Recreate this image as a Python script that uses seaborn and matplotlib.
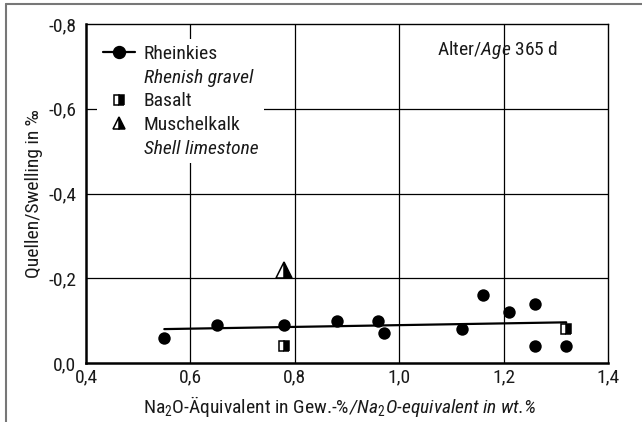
import matplotlib
matplotlib.use("Agg")
import matplotlib.pyplot as plt
from matplotlib import font_manager
from matplotlib.lines import Line2D
from matplotlib.ticker import FuncFormatter, FixedLocator
import seaborn as sns

# ---------------- data ----------------
rhein_x = [0.55, 0.65, 0.78, 0.88, 0.96, 0.97, 1.12, 1.16, 1.21, 1.26, 1.26, 1.32]
rhein_y = [-0.06, -0.09, -0.09, -0.10, -0.10, -0.07, -0.08, -0.16, -0.12, -0.14, -0.04, -0.04]
basalt_x = [0.78, 1.32]
basalt_y = [-0.04, -0.08]
muschel_x = [0.78]
muschel_y = [-0.22]
trend_x = [0.55, 1.32]
trend_y = [-0.080, -0.096]
x_ticks = [0.4, 0.6, 0.8, 1.0, 1.2, 1.4]
y_ticks = [0.0, -0.2, -0.4, -0.6, -0.8]

# ---------------- style ----------------
sns.set_theme(style="white")

def pick_font():
    for fam in ["Liberation Sans Narrow", "Roboto Condensed", "Open Sans Condensed"]:
        try:
            font_manager.findfont(font_manager.FontProperties(family=fam),
                                  fallback_to_default=False)
            return fam, "normal"
        except Exception:
            pass
    return "DejaVu Sans", "condensed"

FAM, STRETCH = pick_font()
plt.rcParams["font.family"] = [FAM, "DejaVu Sans"]
plt.rcParams["font.stretch"] = STRETCH
plt.rcParams["mathtext.fontset"] = "custom"
plt.rcParams["mathtext.rm"] = FAM
plt.rcParams["mathtext.it"] = FAM + ":italic"
plt.rcParams["mathtext.default"] = "rm"
plt.rcParams["axes.unicode_minus"] = False
FS = 14
TXT = "#1a1a1a"

fig = plt.figure(figsize=(6.42, 4.22), dpi=100)
ax = fig.add_axes([86/642, 1-363/422, (608-86)/642, (363-24)/422])

# grid
for v in x_ticks[1:-1]:
    ax.axvline(v, color="black", lw=0.9, zorder=1)
for v in y_ticks[1:-1]:
    ax.axhline(v, color="black", lw=0.9, zorder=1)

# marks
sns.lineplot(x=trend_x, y=trend_y, color="black", lw=1.6, ax=ax, zorder=3)
sns.scatterplot(x=rhein_x, y=rhein_y, color="black", s=80, linewidth=0,
                marker="o", ax=ax, zorder=4)
ax.plot(basalt_x, basalt_y, ls="none", marker="s", ms=7.5, fillstyle="right",
        mfc="black", mfcalt="white", mec="black", mew=1.1, zorder=4)
ax.plot(muschel_x, muschel_y, ls="none", marker="^", ms=11, fillstyle="right",
        mfc="black", mfcalt="white", mec="black", mew=1.1, zorder=4)

ax.set_xlim(0.4, 1.4)
ax.set_ylim(0.0, -0.8)
ax.xaxis.set_major_locator(FixedLocator(x_ticks))
ax.yaxis.set_major_locator(FixedLocator(y_ticks))
fmt = FuncFormatter(lambda v, p: f"{v:.1f}".replace(".", ","))
ax.xaxis.set_major_formatter(fmt)
ax.yaxis.set_major_formatter(fmt)
ax.tick_params(axis="both", labelsize=FS, colors=TXT)
ax.tick_params(axis="y", length=4, width=0.9, direction="out", pad=3, color="black")
ax.tick_params(axis="x", length=0, pad=4)

for s in ["left", "bottom"]:
    ax.spines[s].set_linewidth(1.8)
    ax.spines[s].set_color("black")
for s in ["top", "right"]:
    ax.spines[s].set_linewidth(1.0)
    ax.spines[s].set_color("black")
for s in ax.spines.values():
    s.set_zorder(6)

ax.set_ylabel("Quellen/Swelling in ‰", fontsize=FS, color=TXT, labelpad=4)

# x label in two parts (upright / italic)
fig.text(349/642, 9/422, "Na$_2$O-Äquivalent in Gew.-%", ha="right",
         va="baseline", fontsize=FS, color=TXT)
fig.text(349/642, 9/422, "/Na$_2$O-equivalent in wt.%", ha="left",
         va="baseline", fontsize=FS, color=TXT, style="italic")

ax.text(0.789, 0.923, r"Alter/$\mathit{Age}$ 365 d", transform=ax.transAxes,
        ha="center", va="center", fontsize=FS, color=TXT)

# legend
handles = [
    Line2D([], [], color="black", lw=1.6, marker="o", ms=8.6),
    Line2D([], [], ls="none"),
    Line2D([], [], ls="none", marker="s", ms=7, fillstyle="right", mfc="black",
           mfcalt="white", mec="black", mew=1.1),
    Line2D([], [], ls="none", marker="^", ms=9, fillstyle="right", mfc="black",
           mfcalt="white", mec="black", mew=1.1),
    Line2D([], [], ls="none"),
]
labels = ["Rheinkies", "Rhenish gravel", "Basalt", "Muschelkalk", "Shell limestone"]
leg = ax.legend(handles, labels, loc="upper left", bbox_to_anchor=(0.022, 0.955),
                borderaxespad=0.0, borderpad=0.28, frameon=True, fancybox=False,
                facecolor="white", edgecolor="none", framealpha=1.0,
                handlelength=1.65, handletextpad=0.46, labelspacing=0.3,
                fontsize=FS)
leg.set_zorder(2)
for i, t in enumerate(leg.get_texts()):
    t.set_color(TXT)
    if i in (1, 4):
        t.set_fontstyle("italic")

# outer grey frame (left and top edges visible)
fig.add_artist(Line2D([6/642, 6/642], [0, 1-4/422], transform=fig.transFigure,
                      color="#777777", lw=1.5))
fig.add_artist(Line2D([6/642, 1], [1-4/422, 1-4/422], transform=fig.transFigure,
                      color="#777777", lw=1.5))

fig.savefig("out.png", dpi=100, facecolor="white")
